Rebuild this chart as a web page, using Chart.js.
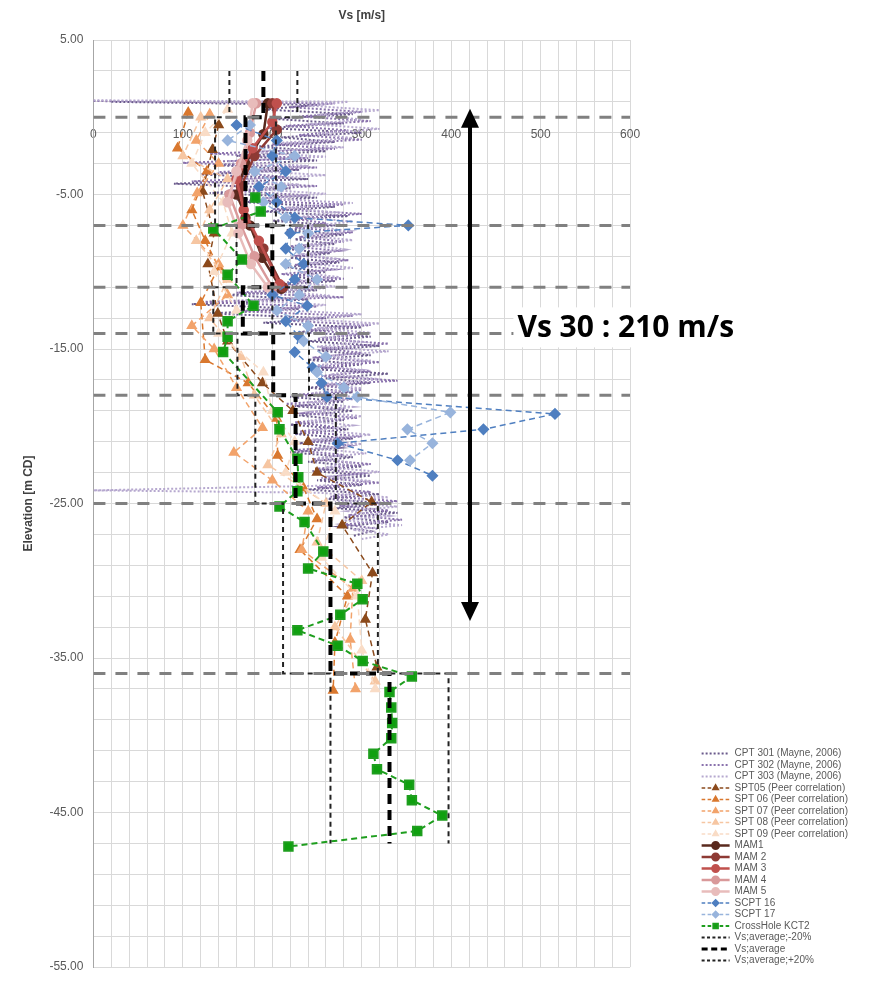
<!DOCTYPE html>
<html>
<head>
<meta charset="utf-8">
<script src="https://cdn.jsdelivr.net/npm/chart.js@4.4.1/dist/chart.umd.min.js"></script>
<style>
  html, body { margin: 0; padding: 0; background: #fff; }
  #wrap { width: 871px; height: 985px; position: relative; }
</style>
</head>
<body>
<div id="wrap"><canvas id="vsChart"></canvas></div>
<script>
// ---- data: [elevation (m CD), Vs (m/s)] ----
const cpt301 = [[1.0,20],[0.8,250],[0.5,190],[0.2,290],[-0.1,200],[-0.4,280],[-0.7,195],[-1.0,300],[-1.3,210],[-1.6,270],[-1.9,180],[-2.2,260],[-2.5,160],[-2.8,250],[-3.1,140],[-3.4,230],[-3.7,120],[-4.0,240],[-4.3,90],[-4.6,220],[-4.9,130],[-5.2,250],[-5.5,170],[-5.8,270],[-6.1,190],[-6.4,285],[-6.7,200],[-7.0,270],[-7.3,215],[-7.6,280],[-7.9,225],[-8.2,270],[-8.5,210],[-8.8,265],[-9.1,220],[-9.4,275],[-9.7,215],[-10.0,260],[-10.3,220],[-10.6,270],[-10.9,190],[-11.2,250],[-11.5,150],[-11.8,240],[-12.1,110],[-12.4,230],[-12.7,130],[-13.0,260],[-13.3,190],[-13.6,300],[-13.9,230],[-14.2,310],[-14.5,240],[-14.8,320],[-15.1,250],[-15.4,310],[-15.7,240],[-16.0,300],[-16.3,245],[-16.6,330],[-16.9,260],[-17.2,310],[-17.5,240],[-17.8,290],[-18.1,220],[-18.4,280],[-18.7,225],[-19.0,290],[-19.3,230],[-19.6,280],[-19.9,220],[-20.2,285],[-20.5,225],[-20.8,290],[-21.1,230],[-21.4,275],[-21.7,220],[-22.0,290],[-22.3,240],[-22.6,300],[-22.9,245],[-23.2,310],[-23.5,250],[-23.8,300],[-24.1,240],[-24.4,320],[-24.7,260],[-25.0,330],[-25.3,270],[-25.6,340],[-25.9,280],[-26.2,330],[-26.5,275],[-26.8,310],[-27.1,290]];
const cpt302 = [[1.05,0],[0.9,270],[0.65,220],[0.35,300],[0.05,230],[-0.25,310],[-0.55,215],[-0.85,285],[-1.15,230],[-1.45,300],[-1.75,200],[-2.05,270],[-2.35,130],[-2.65,240],[-2.95,100],[-3.25,250],[-3.55,140],[-3.85,215],[-4.15,110],[-4.45,250],[-4.75,150],[-5.05,240],[-5.35,160],[-5.65,280],[-5.95,200],[-6.25,300],[-6.55,220],[-6.85,260],[-7.15,225],[-7.45,290],[-7.75,230],[-8.05,280],[-8.35,220],[-8.65,275],[-8.95,230],[-9.25,285],[-9.55,225],[-9.85,270],[-10.15,210],[-10.45,280],[-10.75,200],[-11.05,260],[-11.35,160],[-11.65,280],[-11.95,120],[-12.25,250],[-12.55,160],[-12.85,290],[-13.15,210],[-13.45,310],[-13.75,240],[-14.05,300],[-14.35,250],[-14.65,330],[-14.95,255],[-15.25,300],[-15.55,245],[-15.85,320],[-16.15,250],[-16.45,310],[-16.75,255],[-17.05,340],[-17.35,250],[-17.65,300],[-17.95,230],[-18.25,290],[-18.55,215],[-18.85,280],[-19.15,235],[-19.45,295],[-19.75,225],[-20.05,270],[-20.35,230],[-20.65,300],[-20.95,240],[-21.25,285],[-21.55,225],[-21.85,280],[-22.15,245],[-22.45,310],[-22.75,250],[-23.05,300],[-23.35,255],[-23.65,320],[-23.95,250],[-24.25,310],[-24.55,265],[-24.85,340],[-25.15,275],[-25.45,330],[-25.75,285],[-26.05,345],[-26.35,280],[-26.65,320]];
const cpt303 = [[1.1,0],[1.0,285],[0.75,240],[0.45,320],[0.15,250],[-0.15,300],[-0.45,240],[-0.75,320],[-1.05,250],[-1.35,290],[-1.65,210],[-1.95,280],[-2.25,170],[-2.55,260],[-2.85,150],[-3.15,240],[-3.45,170],[-3.75,260],[-4.05,160],[-4.35,230],[-4.65,180],[-4.95,260],[-5.25,190],[-5.55,290],[-5.85,215],[-6.15,270],[-6.45,230],[-6.75,290],[-7.05,240],[-7.35,285],[-7.65,235],[-7.95,290],[-8.25,240],[-8.55,280],[-8.85,235],[-9.15,270],[-9.45,240],[-9.75,290],[-10.05,230],[-10.35,275],[-10.65,220],[-10.95,270],[-11.25,200],[-11.55,265],[-11.85,170],[-12.15,260],[-12.45,200],[-12.75,300],[-13.05,230],[-13.35,320],[-13.65,250],[-13.95,310],[-14.25,260],[-14.55,300],[-14.85,250],[-15.15,330],[-15.45,260],[-15.75,310],[-16.05,250],[-16.35,300],[-16.65,265],[-16.95,320],[-17.25,260],[-17.55,300],[-17.85,245],[-18.15,300],[-18.45,240],[-18.75,290],[-19.05,245],[-19.35,300],[-19.65,240],[-19.95,290],[-20.25,250],[-20.55,310],[-20.85,245],[-21.15,300],[-21.45,250],[-21.75,305],[-22.05,250],[-22.35,290],[-22.65,260],[-22.95,320],[-23.25,265],[-23.55,310],[-23.85,255],[-24.15,0],[-24.3,250],[-24.6,330],[-24.9,270],[-25.2,340],[-25.5,285],[-25.8,330],[-26.1,280],[-26.4,345],[-26.7,290],[-27.0,330],[-27.3,300]];

const spt05 = [[-0.5,140],[-2.1,133],[-4.8,122],[-7.5,135],[-9.5,128],[-12.7,139],[-14.5,150],[-17.2,189],[-19.0,223],[-21.0,240],[-23.0,250],[-24.9,311],[-26.4,278],[-29.5,312],[-32.5,304],[-35.6,317]];
const spt06 = [[0.3,106],[-2.0,94],[-3.5,127],[-6.0,110],[-8.0,125],[-9.7,140],[-12.0,120],[-15.7,125],[-17.2,173],[-19.5,205],[-21.9,206],[-24.0,235],[-26.0,250],[-28.0,231],[-31.0,284],[-34.0,270],[-37.1,268]];
const spt07 = [[0.2,130],[-1.5,115],[-3.0,140],[-4.9,116],[-7.0,100],[-9.5,140],[-11.5,150],[-13.5,110],[-15.0,135],[-17.5,160],[-20.1,189],[-21.7,157],[-23.5,200],[-25.5,240],[-28.0,233],[-30.5,290],[-33.8,287],[-37.0,293]];
const spt08 = [[0.0,120],[-2.5,100],[-4.0,150],[-6.0,130],[-8.0,115],[-10.5,150],[-13.0,130],[-15.5,165],[-18.0,180],[-20.5,210],[-22.5,195],[-25.0,260],[-27.5,250],[-30.0,300],[-33.0,270],[-36.5,315]];
const spt09 = [[0.5,150],[-1.0,125],[-3.0,110],[-5.5,145],[-7.5,155],[-10.0,135],[-12.5,160],[-14.0,140],[-16.5,190],[-19.0,200],[-21.0,225],[-23.0,215],[-25.5,270],[-28.5,255],[-31.0,295],[-34.5,300],[-37.0,315]];

const mam1 = [[0.9,195],[-1.1,190],[-3.0,170],[-5.0,160],[-7.0,175],[-9.1,189],[-11.1,210]];
const mam2 = [[0.9,200],[-0.8,205],[-2.5,180],[-4.5,165],[-6.5,170],[-8.5,190],[-11.0,212]];
const mam3 = [[0.9,205],[-0.3,200],[-2.0,178],[-4.0,160],[-6.0,168],[-8.0,185],[-10.8,208]];
const mam4 = [[0.9,182],[-1.0,175],[-3.0,165],[-5.0,152],[-7.0,165],[-9.0,180],[-11.0,200]];
const mam5 = [[0.9,178],[-1.5,172],[-3.5,160],[-5.5,150],[-7.5,162],[-9.5,176],[-11.0,195]];

const scpt16 = [[-0.5,160],[-1.5,205],[-2.5,200],[-3.5,215],[-4.5,185],[-5.5,205],[-6.5,225],[-7.0,352],[-7.5,220],[-8.5,215],[-9.5,235],[-10.5,225],[-11.5,200],[-12.2,239],[-13.2,215],[-14.2,230],[-15.2,225],[-16.2,245],[-17.2,255],[-18.1,261],[-19.2,516],[-20.2,436],[-21.1,273],[-22.2,340],[-23.2,379]];
const scpt17 = [[-0.5,175],[-1.5,150],[-2.5,225],[-3.5,180],[-4.5,210],[-5.5,190],[-6.5,215],[-7.5,240],[-8.5,230],[-9.5,215],[-10.5,250],[-11.5,230],[-12.5,205],[-13.5,240],[-14.5,235],[-15.5,260],[-16.5,250],[-17.5,280],[-18.1,295],[-19.1,399],[-20.2,351],[-21.1,379],[-22.2,354]];

const crossHole = [[-5.2,181],[-6.1,187],[-7.2,134],[-9.2,166],[-10.2,150],[-12.2,179],[-13.2,150],[-14.2,150],[-15.2,145],[-19.1,206],[-20.2,208],[-22.1,228],[-23.3,229],[-24.2,228],[-25.2,208],[-26.2,236],[-28.1,257],[-29.2,240],[-30.2,295],[-31.2,301],[-32.2,276],[-33.2,228],[-34.2,273],[-35.2,301],[-36.2,356],[-37.2,331],[-38.2,333],[-39.2,334],[-40.2,333],[-41.2,313],[-42.2,317],[-43.2,353],[-44.2,356],[-45.2,390],[-46.2,362],[-47.2,218]];

// layered design profile
const layerTops = [3, 0, -7, -11, -14, -18, -25, -36, -47];
const vsAverage = [190, 170, 200, 167, 201, 226, 265, 331];
const vsMinus20 = [152, 136, 160, 134, 161, 181, 212, 265];
const vsPlus20 = [228, 204, 240, 200, 241, 271, 318, 397];
const layerBoundaries = [0, -7, -11, -14, -18, -25, -36];

// Vs30 annotation
const vs30Label = 'Vs 30 : 210 m/s';

const toXY = pts => pts.map(([e, v]) => ({ x: v, y: e }));

function stepProfile(vals) {
  const pts = [];
  vals.forEach((v, i) => {
    pts.push({ x: v, y: layerTops[i] }, { x: v, y: layerTops[i + 1] });
  });
  return pts;
}

const boundaryPts = [];
layerBoundaries.forEach(e => {
  boundaryPts.push({ x: 0, y: e }, { x: 600, y: e }, { x: null, y: null });
});

const cptStyle = (label, data, color) => ({
  label, data: toXY(data), borderColor: color, backgroundColor: color,
  borderWidth: 2, borderDash: [2, 2], pointRadius: 0
});
const sptStyle = (label, data, color) => ({
  label, data: toXY(data), borderColor: color, backgroundColor: color,
  borderWidth: 1.5, borderDash: [6, 4], pointStyle: 'triangle', pointRadius: 5
});
const mamStyle = (label, data, color) => ({
  label, data: toXY(data), borderColor: color, backgroundColor: color,
  borderWidth: 2.5, pointStyle: 'circle', pointRadius: 4
});
const scptStyle = (label, data, color) => ({
  label, data: toXY(data), borderColor: color, backgroundColor: color,
  borderWidth: 1.5, borderDash: [6, 4], pointStyle: 'rectRot', pointRadius: 5
});

const datasets = [
  cptStyle('CPT 301 (Mayne, 2006)', cpt301, '#6a5a8c'),
  cptStyle('CPT 302 (Mayne, 2006)', cpt302, '#8a72ad'),
  cptStyle('CPT 303 (Mayne, 2006)', cpt303, '#b6a8cf'),
  sptStyle('SPT05 (Peer correlation)', spt05, '#8b4a1c'),
  sptStyle('SPT 06 (Peer correlation)', spt06, '#d9782f'),
  sptStyle('SPT 07 (Peer correlation)', spt07, '#f2a36b'),
  sptStyle('SPT 08 (Peer correlation)', spt08, '#f6c6a2'),
  sptStyle('SPT 09 (Peer correlation)', spt09, '#f9dcc6'),
  mamStyle('MAM1', mam1, '#5a2a1e'),
  mamStyle('MAM 2', mam2, '#8e3a34'),
  mamStyle('MAM 3', mam3, '#c0504d'),
  mamStyle('MAM 4', mam4, '#d9999a'),
  mamStyle('MAM 5', mam5, '#e8bcbb'),
  scptStyle('SCPT 16', scpt16, '#4f7fc0'),
  scptStyle('SCPT 17', scpt17, '#98b4dc'),
  {
    label: 'CrossHole KCT2', data: toXY(crossHole), borderColor: '#1e9e1e', backgroundColor: '#0fa00f',
    borderWidth: 2, borderDash: [6, 4], pointStyle: 'rect', pointRadius: 6
  },
  { label: 'Vs;average;-20%', data: stepProfile(vsMinus20), borderColor: '#222', borderWidth: 2, borderDash: [5, 4], pointRadius: 0 },
  { label: 'Vs;average', data: stepProfile(vsAverage), borderColor: '#000', borderWidth: 4, borderDash: [10, 6], pointRadius: 0 },
  { label: 'Vs;average;+20%', data: stepProfile(vsPlus20), borderColor: '#222', borderWidth: 2, borderDash: [5, 4], pointRadius: 0 },
  { label: '', data: boundaryPts, borderColor: '#808080', borderWidth: 3, borderDash: [12, 10], pointRadius: 0, spanGaps: false }
];
// later series paint over earlier ones, like the spreadsheet
datasets.forEach((d, i) => { d.order = -i; d.fill = false; });

// legend: draw the line + marker sample for each series
const legendMarks = {
  id: 'legendMarks',
  afterDraw(chart) {
    const lg = chart.legend;
    if (!lg || !lg.legendHitBoxes) return;
    const ctx = chart.ctx;
    const bw = lg.options.labels.boxWidth;
    lg.legendItems.forEach((item, i) => {
      const hb = lg.legendHitBoxes[i];
      if (!hb) return;
      const ds = chart.data.datasets[item.datasetIndex];
      const cy = hb.top + hb.height / 2;
      ctx.save();
      ctx.strokeStyle = ds.borderColor;
      ctx.lineWidth = Math.min(ds.borderWidth, 3);
      ctx.setLineDash(ds.borderDash ? ds.borderDash.map(d => Math.max(2, d * 0.6)) : []);
      ctx.beginPath();
      ctx.moveTo(hb.left, cy);
      ctx.lineTo(hb.left + bw, cy);
      ctx.stroke();
      ctx.setLineDash([]);
      if (ds.pointRadius > 0) {
        ctx.fillStyle = ds.backgroundColor;
        ctx.strokeStyle = ds.borderColor;
        Chart.helpers.drawPoint(ctx, { pointStyle: ds.pointStyle, radius: 3.2, borderWidth: 1 }, hb.left + bw / 2, cy);
      }
      ctx.restore();
    });
  }
};

// title over the plot, Vs30 arrow and label
const annotations = {
  id: 'annotations',
  afterDraw(chart) {
    const { ctx, chartArea, scales: { x, y } } = chart;
    ctx.save();
    ctx.fillStyle = '#404040';
    ctx.font = 'bold 12px "Liberation Sans", Arial, sans-serif';
    ctx.textAlign = 'center';
    ctx.textBaseline = 'middle';
    ctx.fillText('Vs [m/s]', (chartArea.left + chartArea.right) / 2, 16);

    const ax = x.getPixelForValue(421);
    const yTop = y.getPixelForValue(0.55);
    const yBot = y.getPixelForValue(-32.6);
    ctx.strokeStyle = '#000';
    ctx.fillStyle = '#000';
    ctx.lineWidth = 4;
    ctx.beginPath();
    ctx.moveTo(ax, yTop + 12);
    ctx.lineTo(ax, yBot - 12);
    ctx.stroke();
    ctx.beginPath();
    ctx.moveTo(ax, yTop);
    ctx.lineTo(ax - 9, yTop + 19);
    ctx.lineTo(ax + 9, yTop + 19);
    ctx.closePath();
    ctx.fill();
    ctx.beginPath();
    ctx.moveTo(ax, yBot);
    ctx.lineTo(ax - 9, yBot - 19);
    ctx.lineTo(ax + 9, yBot - 19);
    ctx.closePath();
    ctx.fill();

    ctx.font = 'bold 30px "Open Sans", sans-serif';
    ctx.textAlign = 'left';
    const tx = x.getPixelForValue(474);
    const ty = y.getPixelForValue(-13.6);
    const tw = ctx.measureText(vs30Label).width;
    ctx.fillStyle = '#fff';
    ctx.fillRect(tx - 4, ty - 20, tw + 8, 40);
    ctx.fillStyle = '#000';
    ctx.fillText(vs30Label, tx, ty + 1);
    ctx.restore();
  }
};

Chart.defaults.font.family = '"Liberation Sans", Arial, sans-serif';

new Chart(document.getElementById('vsChart'), {
  type: 'line',
  data: { datasets },
  options: {
    animation: false,
    responsive: true,
    maintainAspectRatio: false,
    layout: { padding: { top: 40, bottom: 18, left: 17, right: 13 } },
    plugins: {
      tooltip: { enabled: false },
      legend: {
        position: 'right',
        align: 'end',
        fullSize: false,
        maxWidth: 175,
        labels: {
          boxWidth: 28,
          boxHeight: 0,
          padding: 1.5,
          color: '#595959',
          font: { size: 10 },
          filter: item => item.text !== '',
          sort: (a, b) => a.datasetIndex - b.datasetIndex,
          generateLabels: chart => Chart.defaults.plugins.legend.labels.generateLabels(chart)
            .map(l => Object.assign(l, { lineWidth: 0, fillStyle: 'rgba(0,0,0,0)', strokeStyle: 'rgba(0,0,0,0)' }))
        }
      }
    },
    scales: {
      x: {
        type: 'linear',
        position: { y: 0 },
        min: 0,
        max: 600,
        ticks: {
          stepSize: 20,
          autoSkip: false,
          maxRotation: 0,
          padding: 10,
          color: '#595959',
          font: { size: 12 },
          callback: v => (v % 100 === 0 ? v : '')
        },
        grid: { color: '#d9d9d9', drawTicks: false },
        border: { display: false }
      },
      y: {
        type: 'linear',
        min: -55,
        max: 5,
        ticks: {
          stepSize: 2,
          autoSkip: false,
          padding: 10,
          color: '#595959',
          font: { size: 12 },
          callback: v => ((v - 5) % 10 === 0 ? v.toFixed(2) : '')
        },
        grid: { color: '#d9d9d9', drawTicks: false },
        border: { color: '#a6a6a6' },
        title: { display: true, text: 'Elevation [m CD]', color: '#404040', font: { size: 12, weight: 'bold' } }
      },
      gap: {
        type: 'linear',
        position: 'right',
        grid: { display: false },
        ticks: { display: false },
        border: { display: false },
        afterFit: s => { s.width = 70; }
      }
    }
  },
  plugins: [legendMarks, annotations]
});
</script>
</body>
</html>
